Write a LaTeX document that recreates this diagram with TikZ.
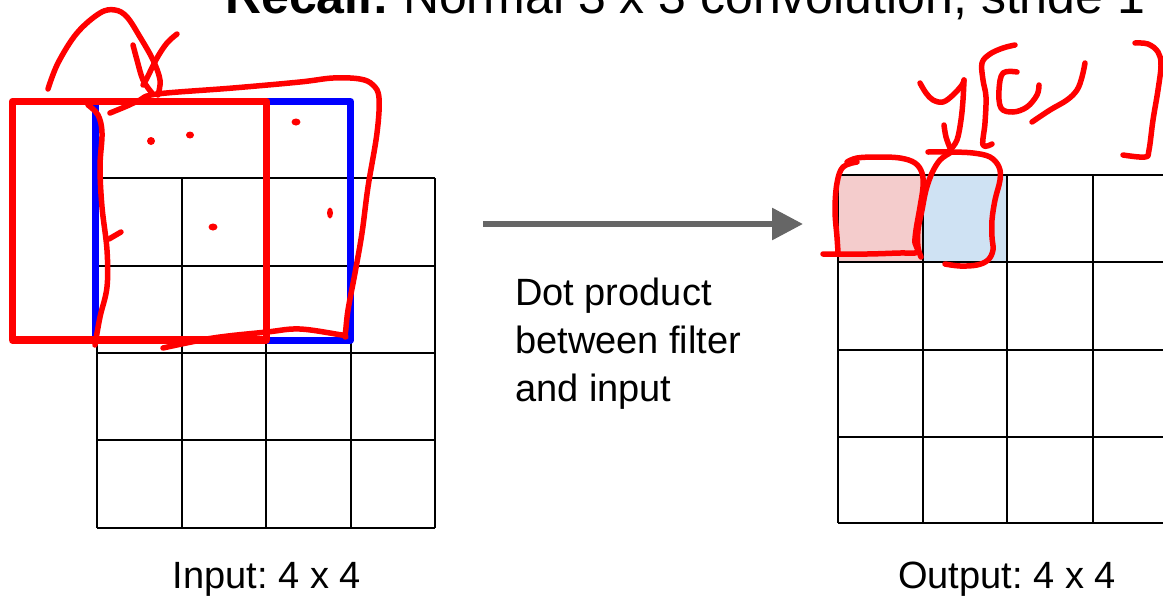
\documentclass[tikz,border=0pt]{standalone}
\usepackage{fontspec}
\setmainfont{Liberation Sans}
\usetikzlibrary{arrows.meta}
\definecolor{arrowgray}{HTML}{666666}
\definecolor{cellpink}{HTML}{F4CCCC}
\definecolor{cellblue}{HTML}{CFE2F3}
\tikzset{
  gridline/.style={line width=2.3pt, black},
  filterblue/.style={line width=7pt, blue, line join=round},
  filterred/.style={line width=7.5pt, red, line join=round},
  ink/.style={line width=5.5pt, red, line cap=round, line join=round},
  inkdot/.style={red, fill=red},
  bodytext/.style={inner sep=0pt, font=\fontsize{38}{48}\selectfont},
}
\frenchspacing
\begin{document}
\frenchspacing
\begin{tikzpicture}[x=1pt, y=-1pt]
\useasboundingbox (0,0) rectangle (1163,598);

% title, partly above the top edge
\node[inner sep=0pt, anchor=base west, font=\fontsize{50}{60}\selectfont] (title) at (225,13)
  {\textbf{Recall:} Normal 3 x 3 convolution, stride 1};

% input grid 4 x 4
\foreach \x in {97,182,266,351,435} \draw[gridline] (\x,178) -- (\x,528);
\foreach \y in {178,266,353,440,528} \draw[gridline] (97,\y) -- (435,\y);

% output grid, highlighted first row cells
\fill[cellpink] (838,175) rectangle (923,262);
\fill[cellblue] (923,175) rectangle (1007,262);
\foreach \x in {838,923,1007,1093} \draw[gridline] (\x,175) -- (\x,523);
\foreach \y in {175,262,350,437,523} \draw[gridline] (838,\y) -- (1163,\y);

% filter windows
\draw[filterblue] (95.5,101.5) rectangle (350.5,340);
\draw[filterred] (12.5,101.5) rectangle (266.5,340);

% arrow and its caption
\coordinate (arrowfrom) at (483,224);
\coordinate (arrowto) at (803,224);
\draw[arrowgray, line width=6pt, -{Triangle[length=31pt, width=31pt]}] (arrowfrom) -- (arrowto);
\node[bodytext, anchor=north west, align=left] (caption) at (515,277.5)
  {Dot product\\between filter\\and input};

\node[bodytext, anchor=base] (inlabel) at (267,588) {Input: 4 x 4};
\node[bodytext, anchor=base] (outlabel) at (1007,588) {Output: 4 x 4};

% hand-drawn annotations on the input side
\draw[ink] plot[smooth, tension=0.6] coordinates
  {(48,89) (58,63) (77,33) (100,13) (115,10) (127,17) (140,37) (153,60) (160,80) (158,95)};
\draw[ink] plot[smooth, tension=0.6] coordinates
  {(110,113) (127,106) (140,100) (157,94) (233,88) (300,82) (333,78) (360,79) (373,85) (379,98)
   (377,133) (368,187) (362,233) (355,273) (348,310) (345,335) (342,335) (300,329) (267,332) (213,338) (163,348)};
\draw[ink] plot[smooth, tension=0.6] coordinates
  {(88,105) (98,115) (102,133) (100,167) (102,207) (107,250) (107,287) (100,317) (95,345)};
\draw[ink] plot[smooth, tension=0.6] coordinates {(133,45) (137,60) (143,80) (152,93)};
\draw[ink] plot[smooth, tension=0.6] coordinates {(177,34) (167,43) (157,58) (147,78) (143,85)};
\draw[ink] (109,239) -- (121,232);
\fill[inkdot] (151,141) ellipse [x radius=4pt, y radius=4pt];
\fill[inkdot] (190,135) ellipse [x radius=4pt, y radius=3.5pt];
\fill[inkdot] (296,122) ellipse [x radius=4.5pt, y radius=3.5pt];
\fill[inkdot] (213,227) ellipse [x radius=4.5pt, y radius=3.5pt];
\fill[inkdot] (330,213) ellipse [x radius=3pt, y radius=5.5pt];

% hand-drawn annotations on the output side
\draw[ink] plot[smooth, tension=0.6] coordinates
  {(847,162) (857,158) (877,157) (900,158) (915,163) (922,173) (923,187) (920,207) (916,230)
   (915,243) (918,250) (915,253) (900,253) (867,254) (823,254)};
\draw[ink] plot[smooth, tension=0.6] coordinates
  {(857,162) (843,167) (837,183) (835,210) (837,237) (838,252)};
\draw[ink] plot[smooth, tension=0.6] coordinates
  {(928,152) (950,152) (973,153) (990,157) (999,167) (1000,180) (995,200) (992,220) (992,237)
   (993,250) (988,260) (977,265) (960,266) (945,264)};
\draw[ink] plot[smooth, tension=0.6] coordinates
  {(950,153) (940,160) (932,173) (926,190) (922,210) (918,230) (918,247) (921,257)};
% y[0,']
\draw[ink] plot[smooth, tension=0.6] coordinates
  {(920,83) (926,93) (933,100) (943,102) (953,95) (962,85) (964,80)};
\draw[ink] plot[smooth, tension=0.6] coordinates
  {(964,80) (963,100) (961,120) (957,140) (950,150)};
\draw[ink] plot[smooth, tension=0.6] coordinates {(944,125) (946,137) (950,148)};
\draw[ink] plot[smooth, tension=0.6] coordinates
  {(1015,45) (1003,48) (990,54) (982,63) (983,80) (986,97) (985,123) (983,145) (992,144)};
\draw[ink] plot[smooth, tension=0.6] coordinates
  {(1017,72) (1003,73) (999,90) (1001,108) (1013,112) (1027,107) (1037,95) (1039,85)};
\draw[ink] plot[smooth, tension=0.6] coordinates
  {(1085,63) (1082,77) (1077,90) (1067,100) (1050,110) (1032,122)};
\draw[ink] plot[smooth, tension=0.6] coordinates
  {(1135,43) (1148,44) (1158,52) (1161,65) (1158,90) (1153,120) (1149,150) (1145,157) (1123,155)};
\end{tikzpicture}
\end{document}
